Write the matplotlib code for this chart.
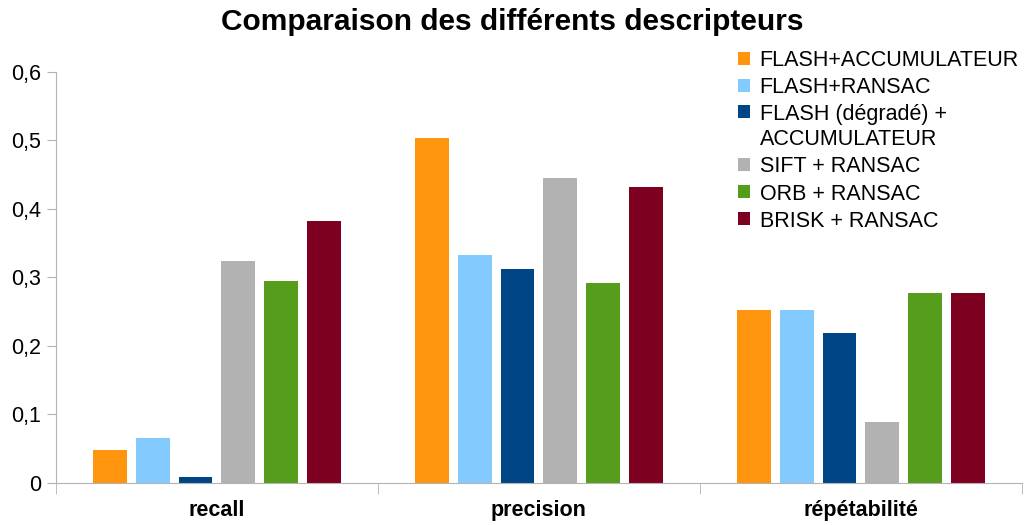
import numpy as np
import matplotlib.pyplot as plt
from matplotlib.ticker import FixedLocator, FuncFormatter
from matplotlib.legend_handler import HandlerPatch, update_from_first_child
from matplotlib.patches import Rectangle

plt.rcParams['font.family'] = ['Liberation Sans', 'DejaVu Sans']

categories = ["recall", "precision", "répétabilité"]
series = ["FLASH+ACCUMULATEUR", "FLASH+RANSAC", "FLASH (dégradé) +\nACCUMULATEUR",
          "SIFT + RANSAC", "ORB + RANSAC", "BRISK + RANSAC"]
flash_accu = [0.048, 0.503, 0.253]
flash_ransac = [0.066, 0.333, 0.253]
flash_degrade = [0.009, 0.312, 0.219]
sift = [0.324, 0.445, 0.089]
orb = [0.295, 0.292, 0.277]
brisk = [0.382, 0.432, 0.278]
colors = ["#ff950e", "#83caff", "#004586", "#b2b2b2", "#579d1c", "#7e0021"]

values = [flash_accu, flash_ransac, flash_degrade, sift, orb, brisk]

fig = plt.figure(figsize=(10.25, 5.25), dpi=100)
ax = fig.add_axes([0.0546, 0.08, 0.9424, 0.783])

x = np.arange(len(categories))
pitch = 0.133
width = 0.105
containers = []
for i, (vals, name, c) in enumerate(zip(values, series, colors)):
    containers.append(ax.bar(x + (i - 2.5) * pitch, vals, width, color=c, label=name))

ax.set_xlim(-0.5, 2.5)
ax.set_ylim(0, 0.6)
ax.set_yticks([0, 0.1, 0.2, 0.3, 0.4, 0.5, 0.6])
ax.yaxis.set_major_formatter(FuncFormatter(lambda v, p: ("%g" % round(v, 1)).replace(".", ",")))
ax.set_xticks(x)
ax.set_xticklabels(categories, fontweight="bold", fontsize=15.5)
ax.tick_params(axis="x", which="major", length=0, pad=12)
ax.xaxis.set_minor_locator(FixedLocator([-0.5, 0.5, 1.5, 2.5]))
ax.tick_params(axis="x", which="minor", length=8, color="#b3b3b3", direction="out")
ax.tick_params(axis="y", length=6.5, color="#b3b3b3", labelsize=15.5, pad=4)

for s in ["top", "right"]:
    ax.spines[s].set_visible(False)
ax.spines["left"].set_color("#b3b3b3")
ax.spines["bottom"].set_color("#b3b3b3")
ax.spines["left"].set_bounds(0, 0.6)

fig.text(0.5, 0.958, "Comparaison des différents descripteurs", ha="center", va="center",
         fontsize=21.5, fontweight="bold")


# the two-line entry: keep the square next to the first line
def top_square(legend, orig_handle, xdescent, ydescent, width, height, fontsize):
    return Rectangle((-xdescent, -ydescent + 11.5), width, height)


hmap = {containers[2]: HandlerPatch(patch_func=top_square, update_func=update_from_first_child)}
leg = fig.legend(loc="upper left", bbox_to_anchor=(0.72, 0.904), frameon=False, fontsize=15.5,
                 handlelength=0.55, handleheight=0.55, handletextpad=0.45, labelspacing=0.28,
                 borderaxespad=0, borderpad=0, handler_map=hmap)
for t in leg.get_texts():
    t.set_linespacing(1.25)

fig.savefig("out.png", dpi=100)
